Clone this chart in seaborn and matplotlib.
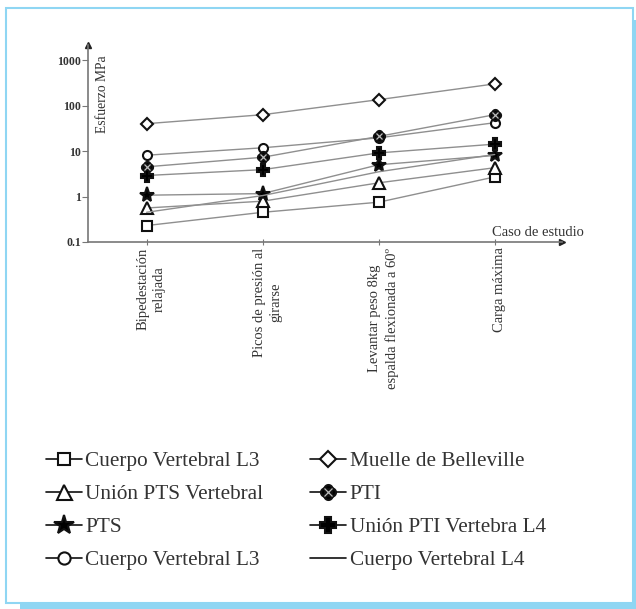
import numpy as np
import pandas as pd
import matplotlib
matplotlib.use("Agg")
import matplotlib.pyplot as plt
import seaborn as sns
from matplotlib.path import Path
from matplotlib.patches import Rectangle
from matplotlib.lines import Line2D
from matplotlib.legend_handler import HandlerTuple

# Load cases (x axis)
casos = [
    "Bipedestación\nrelajada",
    "Picos de presión al\ngirarse",
    "Levantar peso 8kg\nespalda flexionada a 60º",
    "Carga máxima",
]

# Stress values (MPa) per component
cuerpo_l3_cuadro = [0.23, 0.45, 0.75, 2.7]
union_pts_vertebral = [0.56, 0.79, 2.0, 4.3]
pts = [1.07, 1.16, 5.0, 8.0]
cuerpo_l3_circulo = [8.1, 11.8, 19.5, 42]
muelle_belleville = [40, 63, 135, 300]
pti = [4.5, 7.3, 21, 63]
union_pti_l4 = [2.9, 3.9, 9.1, 14.2]
cuerpo_l4 = [0.45, 1.05, 3.5, 8.4]

yticks = [0.1, 1, 10, 100, 1000]
ytick_labels = ["0.1", "1", "10", "100", "1000"]

sns.set_theme(style="white")
plt.rcParams["font.family"] = ["Liberation Serif", "DejaVu Serif"]

# Quatrefoil marker for PTI
def quatrefoil():
    t = np.linspace(0, 2 * np.pi, 40)
    paths = []
    for cx, cy in [(0.45, 0), (-0.45, 0), (0, 0.45), (0, -0.45)]:
        verts = np.column_stack([cx + 0.55 * np.cos(t), cy + 0.55 * np.sin(t)])
        paths.append(Path(verts, closed=True))
    return Path.make_compound_path(*paths)

QF = quatrefoil()

series = [
    ("Cuerpo Vertebral L3", cuerpo_l3_cuadro, dict(marker="s", ms=6.5, mfc="white")),
    ("Unión PTS Vertebral", union_pts_vertebral, dict(marker="^", ms=8, mfc="white")),
    ("PTS", pts, dict(marker="*", ms=11, mfc="black")),
    ("Cuerpo Vertebral L3 ", cuerpo_l3_circulo, dict(marker="o", ms=6.5, mfc="white")),
    ("Muelle de Belleville", muelle_belleville, dict(marker="D", ms=6, mfc="white")),
    ("PTI", pti, dict(marker=QF, ms=8, mfc="black")),
    ("Unión PTI Vertebra L4", union_pti_l4, dict(marker="P", ms=8.5, mfc="black")),
    ("Cuerpo Vertebral L4", cuerpo_l4, dict(marker=None, ms=0, mfc="none")),
]

fig = plt.figure(figsize=(6.36, 6.09), dpi=100)
fig.patch.set_facecolor("white")
ax = fig.add_axes([88 / 636, 1 - 242 / 609, (562 - 88) / 636, (242 - 45) / 609])
ax.set_facecolor("white")

xpos = np.arange(len(casos))
handles = []
for name, vals, st in series:
    df = pd.DataFrame({"caso": xpos, "valor": vals})
    sns.lineplot(data=df, x="caso", y="valor", ax=ax, color="#8f8f8f",
                 linewidth=1.0, marker=st["marker"], markersize=st["ms"],
                 markerfacecolor=st["mfc"], markeredgecolor="#111111",
                 markeredgewidth=1.5, zorder=3)
    if name == "PTI":
        ax.plot(xpos, vals, linestyle="none", marker="x", markersize=4,
                markeredgecolor="#bbbbbb", markeredgewidth=0.9, zorder=4)
        h = (Line2D([], [], color="#111111", lw=1.2, marker=QF, ms=8, mfc="black",
                    mec="#111111", mew=1.5),
             Line2D([], [], ls="none", marker="x", ms=4, mec="#bbbbbb", mew=0.9))
    else:
        h = Line2D([], [], color="#111111", lw=1.2, marker=st["marker"],
                   ms=st["ms"], mfc=st["mfc"], mec="#111111", mew=1.5)
    handles.append(h)

ax.set_yscale("log")
ax.set_ylim(0.1, 2150)
ax.set_xlim(-0.505, 3.58)
ax.set_yticks(yticks)
ax.set_yticklabels(ytick_labels)
ax.minorticks_off()
ax.set_xticks(xpos)
ax.set_xticklabels([])
ax.tick_params(axis="y", direction="out", length=4, width=0.8, color="#777777",
               labelsize=8.5, pad=1, left=True)
ax.tick_params(axis="x", direction="inout", length=5, width=0.8, color="#777777",
               bottom=True)
for lab in ax.get_yticklabels():
    lab.set_fontweight("bold")
    lab.set_color("#333333")

for s in ["top", "right"]:
    ax.spines[s].set_visible(False)
for s in ["left", "bottom"]:
    ax.spines[s].set_color("#777777")
    ax.spines[s].set_linewidth(1.2)
ax.set_xlabel("")
ax.set_ylabel("")

# Arrow heads at the axis ends
ax.plot(1, 0, ">", color="#222222", ms=5, transform=ax.transAxes, clip_on=False)
ax.plot(0, 1, "^", color="#222222", ms=5, transform=ax.transAxes, clip_on=False)

# Axis titles
ax.text(0.03, 0.75, "Esfuerzo MPa", transform=ax.transAxes, rotation=90,
        ha="center", va="center", fontsize=9.8, color="#333333")
fig.text(538 / 636, 1 - 232 / 609, "Caso de estudio", ha="center", va="center",
         fontsize=10.5, color="#333333")

# Rotated case labels under the axis
for xp, lab in zip(xpos, casos):
    ax.annotate(lab, xy=(xp, 0), xycoords=("data", "axes fraction"),
                xytext=(3.5, -4), textcoords="offset points", rotation=90,
                ha="center", va="top", multialignment="center",
                fontsize=10.5, linespacing=1.35, color="#333333")

leg = fig.legend(handles, [s[0].strip() for s in series], ncol=2,
                 loc="upper left", bbox_to_anchor=(27 / 636, 1 - 432 / 609),
                 frameon=False, fontsize=15.3, handlelength=1.7,
                 handletextpad=0.15, columnspacing=2.2, labelspacing=0.62,
                 markerscale=1.35,
                 handler_map={tuple: HandlerTuple(ndivide=1, pad=0)})
for t in leg.get_texts():
    t.set_color("#333333")

# Light blue frame with a drop shadow on the right and bottom
blue = "#8fd6f3"
fig.patches.append(Rectangle((6 / 636, 1 - 603 / 609), (633 - 6) / 636, (603 - 8) / 609,
                             transform=fig.transFigure, fill=False, edgecolor=blue,
                             linewidth=1.5, zorder=0))
fig.patches.append(Rectangle((633 / 636, 0), 3 / 636, 1 - 20 / 609,
                             transform=fig.transFigure, color=blue, lw=0, zorder=0))
fig.patches.append(Rectangle((20 / 636, 0), 616 / 636, 6 / 609,
                             transform=fig.transFigure, color=blue, lw=0, zorder=0))

fig.savefig("out.png", dpi=100, facecolor="white")
